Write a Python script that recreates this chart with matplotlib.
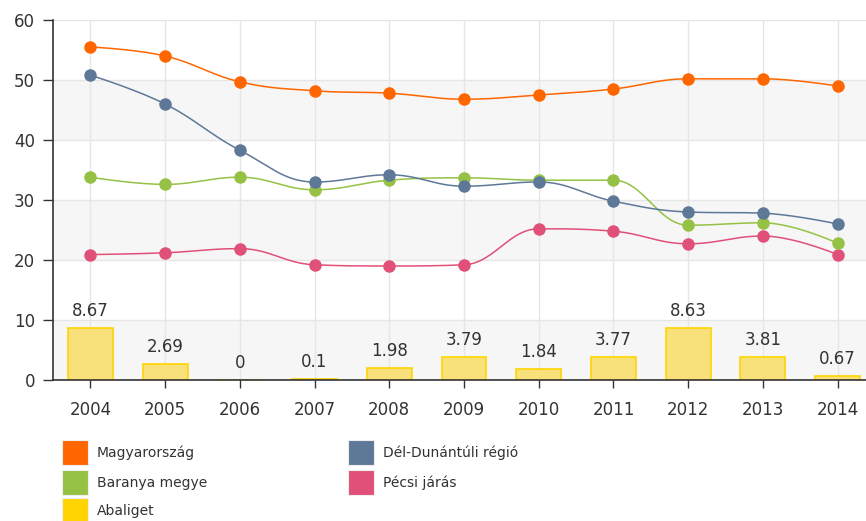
import numpy as np
import matplotlib
matplotlib.use("Agg")
import matplotlib.pyplot as plt
import matplotlib.patches as mpatches

years = ["2004", "2005", "2006", "2007", "2008", "2009", "2010", "2011", "2012", "2013", "2014"]
magyarorszag = [55.5, 54.0, 49.7, 48.2, 47.8, 46.8, 47.5, 48.5, 50.2, 50.2, 49.0]
del_dunantul = [50.8, 46.0, 38.3, 33.0, 34.2, 32.3, 33.0, 29.8, 28.0, 27.8, 26.0]
baranya = [33.8, 32.6, 33.8, 31.7, 33.3, 33.7, 33.3, 33.3, 25.8, 26.2, 22.8]
pecsi = [20.9, 21.2, 21.9, 19.2, 19.0, 19.2, 25.2, 24.8, 22.7, 24.0, 20.9]
abaliget = [8.67, 2.69, 0, 0.1, 1.98, 3.79, 1.84, 3.77, 8.63, 3.81, 0.67]
bar_labels = ["8.67", "2.69", "0", "0.1", "1.98", "3.79", "1.84", "3.77", "8.63", "3.81", "0.67"]
y_ticks = [0, 10, 20, 30, 40, 50, 60]
legend_labels = ["Magyarország", "Dél-Dunántúli régió", "Baranya megye", "Pécsi járás", "Abaliget"]

C_ORANGE = "#FF6600"
C_BLUE = "#5E7898"
C_GREEN = "#95C144"
C_PINK = "#E05079"
C_YELLOW = "#FFD400"
C_BARFILL = "#F8E17A"
TXT = "#333333"
legend_colors = [C_ORANGE, C_BLUE, C_GREEN, C_PINK, C_YELLOW]


def spline_path(xs, ys, smoothing=1.5, steps=30):
    """Highcharts-like spline through the points (cubic Bezier)."""
    xs = np.asarray(xs, float)
    ys = np.asarray(ys, float)
    n = len(xs)
    lc = [(xs[i], ys[i]) for i in range(n)]
    rc = [(xs[i], ys[i]) for i in range(n)]
    d = smoothing + 1
    for i in range(1, n - 1):
        px, py = xs[i], ys[i]
        lx, ly = xs[i - 1], ys[i - 1]
        nx, ny = xs[i + 1], ys[i + 1]
        lcx = (smoothing * px + lx) / d
        lcy = (smoothing * py + ly) / d
        rcx = (smoothing * px + nx) / d
        rcy = (smoothing * py + ny) / d
        if rcx != lcx:
            corr = ((rcy - lcy) * (rcx - px)) / (rcx - lcx) + py - rcy
            lcy += corr
            rcy += corr
        if lcy > max(ly, py):
            lcy = max(ly, py)
            rcy = 2 * py - lcy
        elif lcy < min(ly, py):
            lcy = min(ly, py)
            rcy = 2 * py - lcy
        if rcy > max(py, ny):
            rcy = max(py, ny)
            lcy = 2 * py - rcy
        elif rcy < min(py, ny):
            rcy = min(py, ny)
            lcy = 2 * py - rcy
        lc[i] = (lcx, lcy)
        rc[i] = (rcx, rcy)
    t = np.linspace(0, 1, steps)
    outx, outy = [], []
    for i in range(n - 1):
        p0 = np.array([xs[i], ys[i]])
        p1 = np.array(rc[i])
        p2 = np.array(lc[i + 1])
        p3 = np.array([xs[i + 1], ys[i + 1]])
        pts = ((1 - t) ** 3)[:, None] * p0 + (3 * (1 - t) ** 2 * t)[:, None] * p1 \
            + (3 * (1 - t) * t ** 2)[:, None] * p2 + (t ** 3)[:, None] * p3
        outx.extend(pts[:, 0])
        outy.extend(pts[:, 1])
    return np.array(outx), np.array(outy)


plt.rcParams['font.family'] = ['DejaVu Sans']
W, H = 866, 521
fig = plt.figure(figsize=(W / 100, H / 100), dpi=100)
ax = fig.add_axes([53 / W, 141 / H, 822 / W, 360 / H])

x = np.arange(len(years))
ax.set_xlim(-0.5, len(years) - 0.5)
ax.set_ylim(0, 60)

# alternating bands
for lo in (0, 20, 40):
    ax.axhspan(lo, lo + 10, color="#F6F6F6", zorder=0, lw=0)

ax.set_yticks(y_ticks)
ax.set_xticks(x)
ax.set_xticklabels(years)
ax.grid(True, color="#E6E6E6", lw=1, zorder=0.5)
ax.set_axisbelow(True)

for s in ("top", "right"):
    ax.spines[s].set_visible(False)
for s in ("left", "bottom"):
    ax.spines[s].set_color("#333333")
    ax.spines[s].set_linewidth(1.2)
ax.tick_params(axis="y", length=7, width=1, color="#333333", labelsize=12, labelcolor=TXT, pad=6)
ax.tick_params(axis="x", length=6, width=1, color="#333333", labelsize=12, labelcolor=TXT, pad=9)

ax.bar(x, abaliget, width=0.6, color=C_BARFILL, edgecolor=C_YELLOW, linewidth=1.2, zorder=2)
for xi, v, lab in zip(x, abaliget, bar_labels):
    ax.annotate(lab, (xi, v), xytext=(0, 6), textcoords="offset points",
                ha="center", va="bottom", fontsize=12, color=TXT, zorder=5)

series = [
    (pecsi, C_PINK),
    (baranya, C_GREEN),
    (del_dunantul, C_BLUE),
    (magyarorszag, C_ORANGE),
]
for vals, col in series:
    sx, sy = spline_path(x, vals)
    ax.plot(sx, sy, color=col, lw=1.1, zorder=3, solid_capstyle="round")
    ax.plot(x, vals, ls="none", marker="o", markersize=9, color=col,
            markeredgewidth=0, zorder=4)

# legend (drawn manually, row-major like the original)
col_x = [62, 348]
row_top = [440, 470, 498]
for k, (lab, col) in enumerate(zip(legend_labels, legend_colors)):
    r, c = divmod(k, 2)
    x0 = col_x[c]
    y0 = row_top[r]
    rect = mpatches.Rectangle((x0 / W, 1 - (y0 + 25) / H), 26 / W, 25 / H,
                              transform=fig.transFigure, facecolor=col,
                              edgecolor="#EEEEEE", lw=0.8)
    fig.add_artist(rect)
    fig.text((x0 + 35) / W, 1 - (y0 + 13) / H, lab, ha="left", va="center",
             fontsize=10, color=TXT)

fig.savefig("out.png", dpi=100)
